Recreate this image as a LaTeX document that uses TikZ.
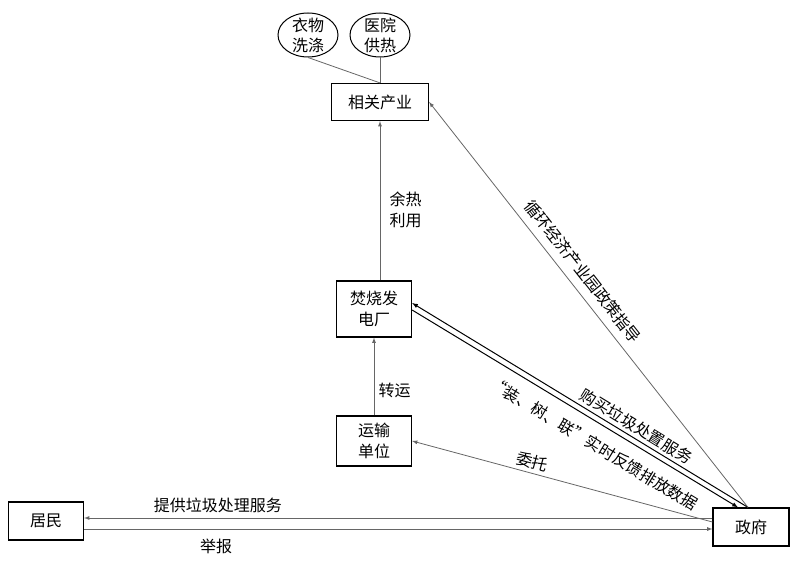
\documentclass[tikz,border=0pt]{standalone}
\usepackage{fontspec}
\setmainfont{Noto Sans CJK SC}
\usetikzlibrary{shapes,arrows,positioning,calc}

\begin{document}
\begin{tikzpicture}[
  x=1pt, y=-1pt,
  font=\fontsize{16}{21}\selectfont,
  entity/.style={
    draw, rectangle, line width=1.2pt, minimum width=75pt, minimum height=38pt,
    align=center, inner sep=2pt
  },
  usage/.style={
    draw, ellipse, line width=1pt, minimum width=60pt, minimum height=44pt,
    align=center, inner xsep=0pt, inner ysep=-3.5pt,
    font=\fontsize{16}{20}\selectfont
  },
  tag/.style={align=center},
  link/.style={line width=0.8pt, draw=black!60},
  edge/.style={->, >=latex, line width=0.8pt, draw=black!60},
  pairedge/.style={->, >=latex, line width=1pt}
]

\useasboundingbox (0,0) rectangle (805,569);

\node[usage] (laundry) at (308,35)   {衣物\\洗涤};
\node[usage] (hospital) at (380,35)  {医院\\供热};
\node[entity, minimum width=97pt, minimum height=37pt] (industry) at (380,102) {相关产业};
\node[entity, minimum height=56pt] (plant) at (374,309)     {焚烧发\\电厂};
\node[entity, minimum height=50pt] (transport) at (374,441) {运输\\单位};
\node[entity, minimum width=76pt] (gov) at (751,527)        {政府};
\node[entity] (resident) at (46,521)                        {居民};

\coordinate (servetop) at ([yshift=9pt]gov.west);
\coordinate (reportlow) at ([yshift=-2pt]gov.west);

\draw[link] (laundry.south)  -- (industry.north);
\draw[link] (hospital.south) -- (industry.north);

\draw[edge] (plant.north -| industry.south) -- (industry.south) node[tag,pos=0.44,right=6pt] {余热\\利用};
\draw[edge] (transport.north) -- (plant.south) node[tag,pos=0.32,right=1pt] {转运};
\draw[edge] ([yshift=5pt]gov.west) -- (transport.east) node[tag,pos=0.61,above,sloped] {委托};

\draw[edge] (servetop) -- (servetop -| resident.east) node[tag,pos=0.787,above=1pt] {提供垃圾处理服务};
\draw[edge] (reportlow -| resident.east) -- (reportlow) node[tag,pos=0.21,below=6pt] {举报};

\draw[pairedge] ([xshift=-3pt]gov.north) -- ([yshift=6pt]plant.east) node[tag,pos=0.35,above,sloped] {购买垃圾处置服务};
\draw[pairedge] ([yshift=-1pt]plant.east) -- ([xshift=-13pt]gov.north) node[tag,pos=0.59,below=9pt,sloped] {“装、树、联”实时反馈排放数据};
\draw[edge] ([xshift=-3pt]gov.north) -- (industry.east) node[tag,pos=0.557,above=5pt,sloped] {循环经济产业园政策指导};

\end{tikzpicture}
\end{document}
